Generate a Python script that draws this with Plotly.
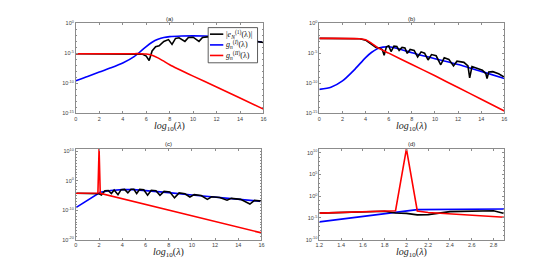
import plotly.graph_objects as go

# ---------------- data ----------------
# panel (a)
xa_blue = [0, 1, 2, 3, 4, 5, 5.5, 6, 6.5, 7, 7.5, 8, 9, 10, 11, 12, 13, 14, 15, 16]
ya_blue = [2.8e-10, 1.4e-9, 7.9e-9, 4.0e-8, 2.5e-7, 3.2e-6, 2.0e-5, 1.4e-4, 7.1e-4, 2.2e-3,
           4.5e-3, 6.3e-3, 7.9e-3, 8.3e-3, 7.9e-3, 6.3e-3, 4.0e-3, 2.2e-3, 1.3e-3, 7.1e-4]
xa_red = [0, 5, 5.5, 6, 6.5, 7, 7.5, 8, 10, 12, 14, 16]
ya_red = [8.9e-6, 8.9e-6, 8.9e-6, 7.9e-6, 5.0e-6, 1.8e-6, 5.0e-7, 1.26e-7, 1.6e-9, 2.5e-11, 3.5e-13, 5.0e-15]
xa_black = [0, 5.4, 5.7, 6.0, 6.25, 6.5, 6.8, 7.1, 7.5, 7.9, 8.2, 8.5, 8.8, 9.3, 9.6, 10.0,
            10.5, 10.8, 11.2, 12, 13, 14, 15, 16]
ya_black = [8.9e-6, 8.9e-6, 7.1e-6, 3.5e-6, 6.3e-7, 2.5e-5, 1.26e-4, 1.8e-4, 1.0e-3, 2.0e-3,
            3.2e-4, 3.2e-3, 4.0e-3, 1.0e-3, 4.5e-3, 5.0e-3, 1.0e-3, 4.5e-3, 5.6e-3, 5.6e-3,
            3.6e-3, 2.0e-3, 1.2e-3, 6.8e-4]

# panel (b)
xb_red = [0, 3.5, 4, 4.5, 5, 6, 8, 10, 12, 14, 16]
yb_red = [3.2e-3, 2.8e-3, 1.8e-3, 5.0e-4, 1.0e-4, 1.1e-5, 1.4e-7, 1.8e-9, 2.0e-11, 2.2e-13, 2.5e-15]
xb_blue = [0, 1, 2, 3, 4, 4.5, 5, 5.5, 6, 7, 8, 10, 12, 14, 16]
yb_blue = [1.0e-11, 2.2e-11, 2.5e-10, 1.6e-8, 2.0e-6, 1.4e-5, 5.6e-5, 1.1e-4, 1.26e-4, 5.0e-5,
           1.26e-5, 1.26e-6, 1.4e-7, 1.0e-8, 6.3e-10]
xb_black = [0, 3.5, 4.0, 4.5, 4.9, 5.2, 5.45, 5.6, 5.8, 6.0, 6.2, 6.45, 6.7, 6.9, 7.15, 7.4,
            7.6, 7.85, 8.2, 8.5, 8.8, 9.1, 9.4, 9.7, 10.1, 10.5, 10.8, 11.2, 11.6, 11.9, 12.5,
            12.85, 13.0, 13.2, 13.6, 14.1, 14.4, 14.5, 14.65, 15.0, 15.5, 16.0]
yb_black = [3.2e-3, 2.8e-3, 1.6e-3, 3.5e-4, 1.0e-4, 7.9e-5, 4.0e-5, 5.0e-6, 1.26e-4, 1.8e-4,
            2.0e-5, 1.6e-4, 1.4e-4, 3.2e-5, 1.0e-4, 7.9e-5, 1.0e-5, 4.5e-5, 3.2e-5, 2.5e-6,
            1.8e-5, 1.1e-5, 7.9e-7, 6.3e-6, 4.0e-6, 1.26e-7, 1.8e-6, 1.0e-6, 7.9e-8, 5.0e-7,
            3.2e-7, 7.9e-8, 7.9e-10, 6.3e-8, 3.2e-8, 1.6e-8, 4.0e-9, 6.3e-10, 7.9e-9, 8.9e-9,
            4.0e-9, 1.1e-9]

# panel (c)
xc_red = [0, 1.9, 2.0, 2.1, 16]
yc_red = [6.3e-5, 7.1e-5, 8e10, 5.6e-5, 2.0e-18]
xc_blue = [0, 1.9, 2.1, 3, 4, 5, 6, 8, 10, 12, 14, 16]
yc_blue = [7.9e-10, 4.0e-5, 1.26e-4, 5.0e-4, 1.0e-3, 1.0e-3, 5.6e-4, 1.0e-4, 1.6e-5, 2.5e-6,
           5.0e-7, 1.0e-7]
xc_black = [0, 1.9, 2.0, 2.2, 2.5, 2.8, 3.06, 3.3, 3.63, 3.9, 4.2, 4.48, 4.75, 5.0, 5.24, 5.5,
            5.85, 6.18, 6.5, 6.9, 7.25, 7.6, 8.1, 8.5, 8.9, 9.4, 9.83, 10.2, 10.8, 11.33, 11.7,
            12.4, 13.03, 13.4, 14.2, 15.0, 15.4, 16.0]
yc_black = [6.3e-5, 5.6e-5, 4.0e-5, 1.6e-5, 4.0e-4, 5.0e-4, 5.0e-5, 7.9e-4, 2.0e-5, 1.0e-3,
            1.26e-3, 7.9e-5, 1.4e-3, 1.4e-3, 5.0e-5, 1.26e-3, 8.9e-4, 1.26e-5, 6.3e-4, 4.5e-4,
            1.26e-5, 2.5e-4, 1.6e-4, 1.6e-6, 7.9e-5, 4.0e-5, 3.2e-6, 2.0e-5, 1.0e-5, 5.0e-7,
            4.0e-6, 2.2e-6, 2.5e-7, 1.1e-6, 5.0e-7, 1.26e-8, 2.2e-7, 1.26e-7]

# panel (d)
xd_red = [1.2, 1.9, 2.0, 2.1, 2.2, 2.9]
yd_red = [1.26e-4, 4.5e-4, 8e10, 4.0e-4, 1.8e-4, 1.4e-5]
xd_blue = [1.2, 1.9, 2.0, 2.1, 2.9]
yd_blue = [1.26e-6, 2.2e-4, 4.5e-4, 7.9e-4, 1.1e-3]
xd_black = [1.2, 1.8, 1.9, 2.0, 2.1, 2.2, 2.4, 2.6, 2.8, 2.9]
yd_black = [1.26e-4, 3.5e-4, 1.4e-4, 1.1e-4, 5.0e-5, 5.6e-5, 2.8e-4, 4.0e-4, 4.5e-4, 1.0e-4]

# tick labels
x_ticks_wide = [0, 2, 4, 6, 8, 10, 12, 14, 16]
x_ticks_zoom = [1.2, 1.4, 1.6, 1.8, 2.0, 2.2, 2.4, 2.6, 2.8]
x_ticktext_zoom = ["1.2", "1.4", "1.6", "1.8", "2", "2.2", "2.4", "2.6", "2.8"]
y_exp_ab = [-15, -10, -5, 0]
y_exp_c = [-20, -10, 0, 10]
y_exp_d = [-10, -5, 0, 5, 10]
panel_titles = ["(a)", "(b)", "(c)", "(d)"]
legend_names = ["|<i>e</i><sub><i>N</i></sub><sup>(1)</sup>(λ)|",
                "<i>g</i><sub><i>n</i></sub><sup>(<i>I</i>)</sup>(λ)",
                "<i>g</i><sub><i>n</i></sub><sup>(<i>II</i>)</sup>(λ)"]

# ---------------- figure ----------------
BLACK, BLUE, RED = "#000000", "#0000ff", "#ff0000"
LW = 1.6
fig = go.Figure()

panels = [
    ("x", "y", xa_blue, ya_blue, xa_black, ya_black, xa_red, ya_red),
    ("x2", "y2", xb_blue, yb_blue, xb_black, yb_black, xb_red, yb_red),
    ("x3", "y3", xc_blue, yc_blue, xc_black, yc_black, xc_red, yc_red),
    ("x4", "y4", xd_blue, yd_blue, xd_black, yd_black, xd_red, yd_red),
]
for i, (xa, ya, xbl, ybl, xk, yk, xr, yr) in enumerate(panels):
    smooth = i < 2
    fig.add_trace(go.Scatter(x=xbl, y=ybl, xaxis=xa, yaxis=ya, mode="lines",
                             line=dict(color=BLUE, width=LW,
                                       shape="spline" if smooth else "linear", smoothing=0.6),
                             name=legend_names[1], showlegend=False))
    fig.add_trace(go.Scatter(x=xk, y=yk, xaxis=xa, yaxis=ya, mode="lines",
                             line=dict(color=BLACK, width=LW),
                             name=legend_names[0], showlegend=False))
    fig.add_trace(go.Scatter(x=xr, y=yr, xaxis=xa, yaxis=ya, mode="lines",
                             line=dict(color=RED, width=LW,
                                       shape="spline" if smooth else "linear", smoothing=0.6),
                             name=legend_names[2], showlegend=False))

# page body has an 8px margin: the figure is drawn offset by 8px
OFF = 8
W, H = 560 - OFF, 271 - OFF
def fx(px):
    return (px - OFF) / W
def fy(px):
    return 1 - (px - OFF) / H

boxes = [  # left, right, top, bottom in window pixels
    (72.7, 262.7, 20.7, 112.7),
    (319.3, 506.7, 20.7, 112.7),
    (72.7, 260.7, 149.0, 242.0),
    (319.3, 506.7, 149.0, 242.0),
]
title_y = [126.0, 126.0, 255.5, 255.5]
AX_COL = "#8c8c8c"
TICK_FONT = dict(family="Liberation Sans, Arial, sans-serif", size=5.5, color="#404040")

def sup_labels(exps):
    return ["10<sup>%d</sup>" % e for e in exps]

yinfo = [
    (y_exp_ab, [-15, 0]),
    (y_exp_ab, [-15, 0]),
    (y_exp_c, [-20, 10.9]),
    (y_exp_d, [-10, 10.9]),
]
xinfo = [
    (x_ticks_wide, [str(v) for v in x_ticks_wide], [0, 16]),
    (x_ticks_wide, [str(v) for v in x_ticks_wide], [0, 16]),
    (x_ticks_wide, [str(v) for v in x_ticks_wide], [0, 16]),
    (x_ticks_zoom, x_ticktext_zoom, [1.2, 2.9]),
]

layout_axes = {}
annotations = []
shapes = []
for i, (l, r, t, b) in enumerate(boxes):
    sfx = "" if i == 0 else str(i + 1)
    xt, xtt, xr = xinfo[i]
    ye, yr = yinfo[i]
    layout_axes["xaxis" + sfx] = dict(
        domain=[fx(l), fx(r)], anchor="y" + sfx, range=xr,
        tickmode="array", tickvals=xt, ticktext=xtt,
        ticks="inside", ticklen=2, tickwidth=0.6, tickcolor=AX_COL,
        showline=True, linecolor=AX_COL, linewidth=0.8, mirror="ticks",
        showgrid=False, zeroline=False, tickfont=TICK_FONT)
    layout_axes["yaxis" + sfx] = dict(
        domain=[fy(b), fy(t)], anchor="x" + sfx, type="log", range=yr,
        tickmode="array", tickvals=[10.0 ** e for e in ye], ticktext=sup_labels(ye),
        ticks="inside", ticklen=2, tickwidth=0.6, tickcolor=AX_COL,
        minor=dict(ticks="inside", ticklen=1.2, tickcolor=AX_COL, dtick=1, showgrid=False),
        showline=True, linecolor=AX_COL, linewidth=0.8, mirror="ticks",
        showgrid=False, zeroline=False, tickfont=TICK_FONT)
    annotations.append(dict(text=panel_titles[i], x=fx((l + r) / 2), y=fy(t - 4.5),
                            xref="paper", yref="paper", showarrow=False,
                            xanchor="center", yanchor="middle",
                            font=dict(family="Liberation Sans, Arial", size=6, color="#222")))
    annotations.append(dict(text="<i>log</i><sub>10</sub>(<i>λ</i>)", x=fx((l + r) / 2),
                            y=fy(title_y[i]), xref="paper", yref="paper", showarrow=False,
                            xanchor="center", yanchor="middle",
                            font=dict(family="Liberation Serif, Times New Roman, serif",
                                      size=10, color="#222")))

# legend box for panel (a)
LEG_L, LEG_R, LEG_T, LEG_B = 206.7, 256.7, 25.0, 61.0
shapes.append(dict(type="rect", xref="paper", yref="paper",
                   x0=fx(LEG_L), x1=fx(LEG_R), y0=fy(LEG_B), y1=fy(LEG_T),
                   line=dict(color="#333", width=0.8), fillcolor="white", layer="above"))
leg_colors = [BLACK, BLUE, RED]
leg_rows = [31.7, 42.7, 53.5]
for name, col, yy in zip(legend_names, leg_colors, leg_rows):
    shapes.append(dict(type="line", xref="paper", yref="paper",
                       x0=fx(208.5), x1=fx(222.0), y0=fy(yy), y1=fy(yy),
                       line=dict(color=col, width=LW), layer="above"))
    annotations.append(dict(text=name, x=fx(223.0), y=fy(yy), xref="paper", yref="paper",
                            showarrow=False, xanchor="left", yanchor="middle",
                            font=dict(family="Liberation Serif, Times New Roman, serif",
                                      size=8, color="#111")))

fig.update_layout(
    width=W, height=H, margin=dict(l=0, r=0, t=0, b=0),
    paper_bgcolor="white", plot_bgcolor="white",
    annotations=annotations, shapes=shapes, showlegend=False,
    **layout_axes)

fig.write_html("out.html")
